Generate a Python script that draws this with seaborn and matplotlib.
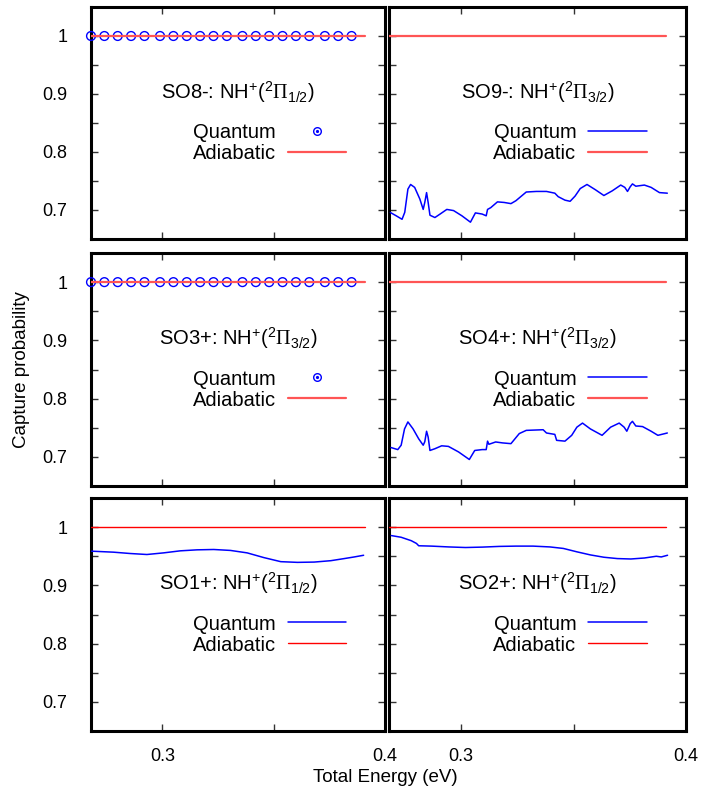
import numpy as np
import pandas as pd
import matplotlib
matplotlib.use("Agg")
import matplotlib.pyplot as plt
import seaborn as sns
from matplotlib.lines import Line2D
from matplotlib.legend_handler import HandlerTuple

# ---------------- data ----------------
circle_energy = [0.268, 0.274, 0.280, 0.286, 0.292, 0.299, 0.305, 0.311, 0.317, 0.323,
                 0.329, 0.336, 0.342, 0.348, 0.354, 0.360, 0.366, 0.373, 0.379, 0.385]
circle_prob = [1.0] * 20

adiabatic_energy = [0.268, 0.391]
adiabatic_prob = [1.0, 1.0]

so9_energy = [0.2686, 0.2712, 0.2738, 0.2750, 0.2764, 0.2776, 0.2794, 0.2817, 0.2832, 0.2839,
              0.2847, 0.2854, 0.2862, 0.2884, 0.2907, 0.2937, 0.2967, 0.3004, 0.3042, 0.3064,
              0.3094, 0.3112, 0.3118, 0.3132, 0.3162, 0.3192, 0.3222, 0.3244, 0.3290, 0.3335,
              0.3380, 0.3417, 0.3432, 0.3462, 0.3485, 0.3507, 0.3530, 0.3560, 0.3597, 0.3635,
              0.3672, 0.3710, 0.3728, 0.3740, 0.3752, 0.3762, 0.3777, 0.3815, 0.3845, 0.3882,
              0.3917]
so9_prob = [0.6957, 0.690, 0.684, 0.696, 0.736, 0.744, 0.739, 0.719, 0.701, 0.713,
            0.730, 0.713, 0.691, 0.687, 0.693, 0.701, 0.699, 0.690, 0.679, 0.695,
            0.693, 0.690, 0.701, 0.704, 0.714, 0.713, 0.711, 0.716, 0.731, 0.732,
            0.732, 0.729, 0.723, 0.717, 0.715, 0.724, 0.737, 0.744, 0.735, 0.725,
            0.733, 0.743, 0.739, 0.732, 0.740, 0.745, 0.741, 0.743, 0.739, 0.730,
            0.729]

so4_energy = [0.2689, 0.2719, 0.2734, 0.2749, 0.2764, 0.2787, 0.2812, 0.2832, 0.2839, 0.2847,
              0.2854, 0.2862, 0.2884, 0.2914, 0.2944, 0.2989, 0.3037, 0.3061, 0.3094, 0.3112,
              0.3118, 0.3124, 0.3154, 0.3184, 0.3222, 0.3259, 0.3290, 0.3365, 0.3380, 0.3417,
              0.3425, 0.3462, 0.3492, 0.3515, 0.3540, 0.3575, 0.3627, 0.3665, 0.3703, 0.3725,
              0.3737, 0.3752, 0.3762, 0.3777, 0.3807, 0.3845, 0.3875, 0.3917]
so4_prob = [0.716, 0.7125, 0.720, 0.748, 0.760, 0.748, 0.731, 0.720, 0.726, 0.744,
            0.734, 0.711, 0.714, 0.719, 0.718, 0.7085, 0.6955, 0.711, 0.7125, 0.7125,
            0.727, 0.7216, 0.7256, 0.724, 0.7227, 0.740, 0.7455, 0.7466, 0.741, 0.7386,
            0.7284, 0.727, 0.737, 0.751, 0.758, 0.748, 0.737, 0.751, 0.758, 0.751,
            0.744, 0.757, 0.761, 0.753, 0.752, 0.744, 0.737, 0.741]

so1_energy = [0.2683, 0.2781, 0.2856, 0.2931, 0.3006, 0.3081, 0.3156, 0.3231, 0.3306, 0.3381,
              0.3456, 0.3532, 0.3607, 0.3682, 0.3757, 0.3817, 0.3862, 0.3904]
so1_prob = [0.9587, 0.957, 0.9547, 0.953, 0.9558, 0.9593, 0.961, 0.9616, 0.960, 0.9558,
            0.9477, 0.9407, 0.9395, 0.940, 0.9424, 0.946, 0.9488, 0.9517]

so2_energy = [0.2690, 0.2734, 0.2779, 0.2802, 0.2812, 0.2869, 0.2945, 0.3020, 0.3095, 0.3170,
              0.3245, 0.3320, 0.3395, 0.3455, 0.3515, 0.3575, 0.3635, 0.3695, 0.3755, 0.3815,
              0.3868, 0.3890, 0.3918]
so2_prob = [0.9855, 0.9826, 0.9767, 0.972, 0.968, 0.9674, 0.966, 0.965, 0.9657, 0.9669,
            0.9674, 0.9674, 0.966, 0.9634, 0.9576, 0.9523, 0.9483, 0.946, 0.9453, 0.947,
            0.950, 0.9488, 0.9517]

panel_labels = ["SO8-", "SO9-", "SO3+", "SO4+", "SO1+", "SO2+"]
panel_omega = ["1/2", "3/2", "3/2", "3/2", "1/2", "1/2"]

y_major = [0.7, 0.8, 0.9, 1.0]
y_major_labels = ["0.7", "0.8", "0.9", "1"]
y_minor = [0.75, 0.85, 0.95]
x_major = [0.3, 0.4]
x_major_labels = ["0.3", "0.4"]
x_minor = [0.35]

# ---------------- style ----------------
sns.set_theme(style="ticks")
plt.rcParams["font.family"] = ["Liberation Sans", "DejaVu Sans"]
plt.rcParams["mathtext.fontset"] = "custom"
plt.rcParams["mathtext.rm"] = "Liberation Sans"
plt.rcParams["mathtext.it"] = "Liberation Sans:italic"
plt.rcParams["mathtext.sf"] = "Liberation Serif"
plt.rcParams["text.color"] = "black"
plt.rcParams["axes.labelcolor"] = "black"

FS_TICK = 13
FS_IN = 14.5
FS_LAB = 13.5
BLUE = "#0000ff"

fig = plt.figure(figsize=(7.12, 7.96), dpi=100)
W, H = 712.0, 796.0

col_px = [(91, 385), (389, 686)]
row_px = [(7, 239), (253, 486), (498, 731)]

quantum_series = [
    ("circles", None, None),
    ("line", so9_energy, so9_prob),
    ("circles", None, None),
    ("line", so4_energy, so4_prob),
    ("line", so1_energy, so1_prob),
    ("line", so2_energy, so2_prob),
]

for idx in range(6):
    r, c = divmod(idx, 2)
    x0, x1 = col_px[c]
    y0, y1 = row_px[r]
    ax = fig.add_axes([x0 / W, 1 - y1 / H, (x1 - x0) / W, (y1 - y0) / H])

    red = "#ff5555" if r < 2 else "#ff0000"
    red_lw = 1.6 if r < 2 else 1.0

    kind, ex, ey = quantum_series[idx]
    if kind == "circles":
        df = pd.DataFrame({"E": circle_energy, "P": circle_prob})
        sns.scatterplot(data=df, x="E", y="P", ax=ax, marker="o", s=40,
                        facecolor="none", edgecolor=BLUE, linewidth=1.0, zorder=3,
                        legend=False, clip_on=False)
        qhandle = (Line2D([], [], ls="none", marker="o", ms=5.5, mfc="none",
                          mec=BLUE, mew=1.0),
                   Line2D([], [], ls="none", marker="o", ms=1.3, mfc=BLUE, mec=BLUE))
    else:
        df = pd.DataFrame({"E": ex, "P": ey})
        sns.lineplot(data=df, x="E", y="P", ax=ax, color=BLUE, lw=1.1,
                     sort=False, estimator=None, zorder=3)
        qhandle = Line2D([], [], color=BLUE, lw=1.1)

    dfa = pd.DataFrame({"E": adiabatic_energy, "P": adiabatic_prob})
    sns.lineplot(data=dfa, x="E", y="P", ax=ax, color=red, lw=red_lw,
                 sort=False, estimator=None, zorder=4)
    ahandle = Line2D([], [], color=red, lw=red_lw)

    ax.set_xlim(0.268, 0.4)
    ax.set_ylim(0.65, 1.05)
    ax.set_xlabel("")
    ax.set_ylabel("")

    ax.set_yticks(y_major)
    ax.set_yticks(y_minor, minor=True)
    ax.set_xticks(x_major)
    ax.set_xticks(x_minor, minor=True)
    if c == 0:
        ax.set_yticklabels(y_major_labels)
    else:
        ax.set_yticklabels([])
    if r == 2:
        ax.set_xticklabels(x_major_labels)
    else:
        ax.set_xticklabels([])

    for sp in ax.spines.values():
        sp.set_visible(True)
        sp.set_linewidth(2.2)
        sp.set_color("black")
    ax.tick_params(which="both", direction="in", top=True, right=True,
                   length=5, width=1.0, color="#333333",
                   labelsize=FS_TICK, labelcolor="black")
    ax.tick_params(axis="y", which="both", pad=17)
    ax.tick_params(axis="x", which="both", pad=12)

    title = (panel_labels[idx] + r": NH$^{+}$($^{2}\mathsf{\Pi}_{" +
             panel_omega[idx] + r"}$)")
    ax.text(0.5, 0.635, title, transform=ax.transAxes, ha="center", va="center",
            fontsize=FS_IN, color="black")

    ax.legend([qhandle, ahandle], ["Quantum", "Adiabatic"],
              loc="center right", bbox_to_anchor=(0.868, 0.414),
              frameon=False, markerfirst=False, fontsize=FS_IN,
              handlelength=2.9, handletextpad=0.6, labelspacing=0.1,
              borderpad=0, borderaxespad=0, numpoints=1,
              handler_map={tuple: HandlerTuple(ndivide=1, pad=0)})

fig.text(385 / W, 1 - 777 / H, "Total Energy (eV)", ha="center", va="center",
         fontsize=FS_LAB, color="black")
fig.text(22 / W, 1 - 370 / H, "Capture probability", ha="center", va="center",
         rotation=90, fontsize=FS_LAB, color="black")

fig.savefig("out.png", dpi=100)
